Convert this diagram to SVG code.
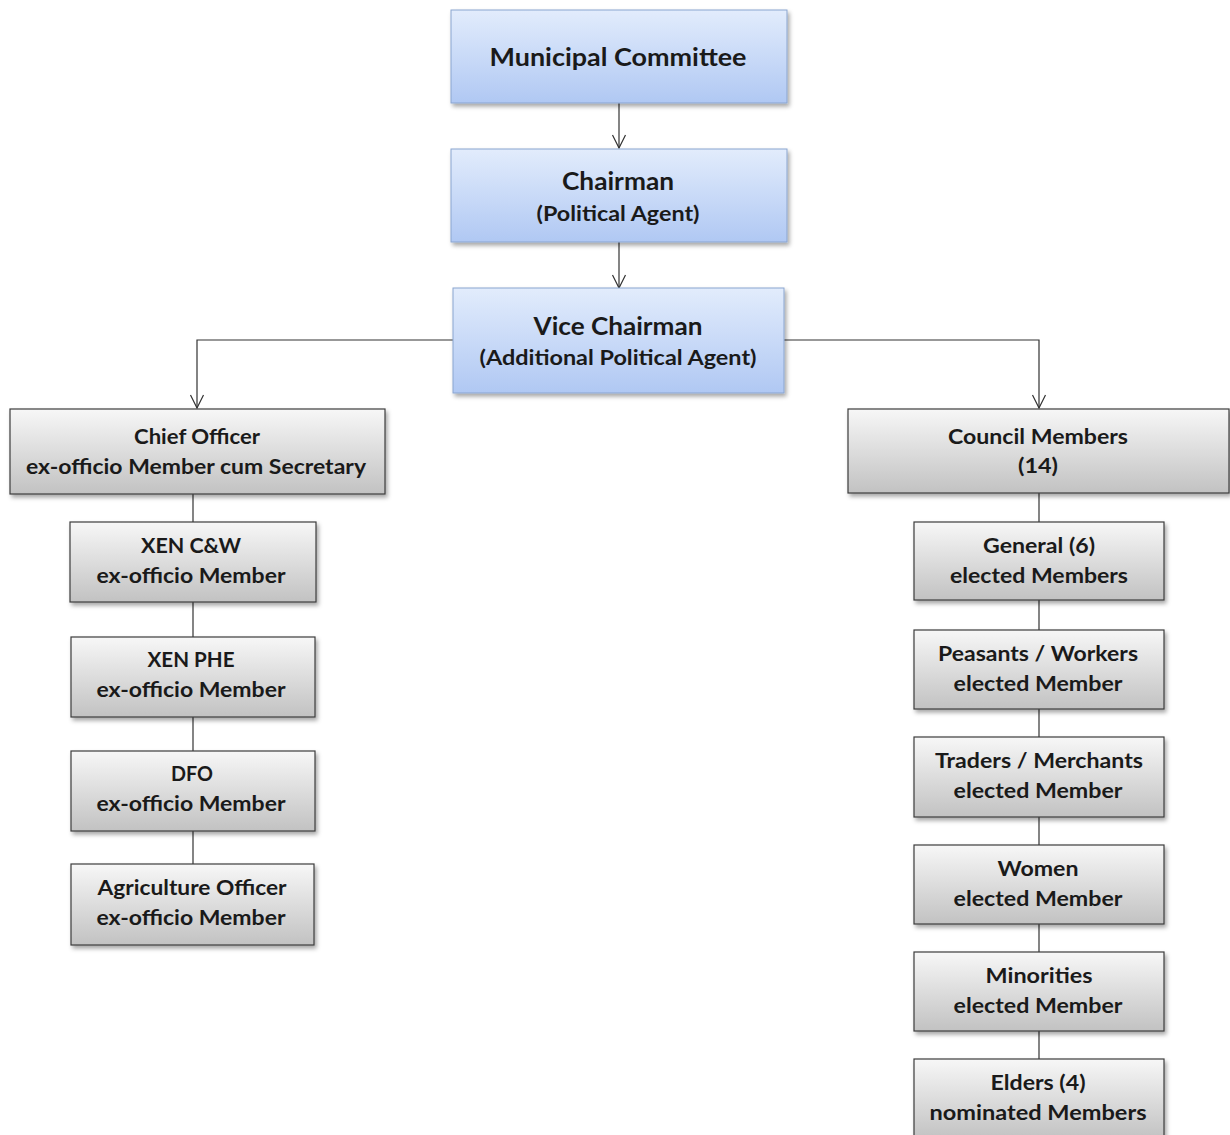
<svg xmlns="http://www.w3.org/2000/svg" width="1230" height="1135" viewBox="0 0 1230 1135">
  <defs>
    <linearGradient id="gBlue" x1="0" y1="0" x2="0" y2="1">
      <stop offset="0" stop-color="#e2ecfc"/>
      <stop offset="1" stop-color="#b0c8f3"/>
    </linearGradient>
    <linearGradient id="gGrey" x1="0" y1="0" x2="0" y2="1">
      <stop offset="0" stop-color="#f7f7f7"/>
      <stop offset="1" stop-color="#c2c2c2"/>
    </linearGradient>
    <filter id="shadow" x="-10%" y="-10%" width="130%" height="140%">
      <feDropShadow dx="2" dy="3" stdDeviation="2" flood-color="#000" flood-opacity="0.35"/>
    </filter>
    <!-- open V arrowhead, drawn pointing along +x so orient="auto" follows the line -->
    <marker id="arrow" viewBox="0 0 16 16" refX="15" refY="8" markerWidth="16" markerHeight="16" markerUnits="userSpaceOnUse" orient="auto">
      <path d="M2,1.5 L15,8 L2,14.5" fill="none" stroke="#333" stroke-width="1.2"/>
    </marker>
  </defs>
  <style>
    .blue { fill: url(#gBlue); stroke: #8aa5cf; stroke-width: 1; filter: url(#shadow); }
    .grey { fill: url(#gGrey); stroke: #3c3c3c; stroke-width: 1.2; filter: url(#shadow); }
    text { font-family: Lato, "Open Sans", "Liberation Sans", sans-serif; font-weight: bold; fill: #1a1a1a; text-anchor: middle; }
    .big { font-size: 24px; }
    .mid { font-size: 21px; }
    .conn line, .conn path { stroke: #333; stroke-width: 1.2; fill: none; }
  </style>

  <rect width="1230" height="1135" fill="#fff"/>

  <!-- connectors -->
  <g id="connectors" class="conn">
    <line x1="619" y1="103" x2="619" y2="148" marker-end="url(#arrow)"/>
    <line x1="619" y1="242" x2="619" y2="288" marker-end="url(#arrow)"/>
    <path d="M453,340 H197 V408" marker-end="url(#arrow)"/>
    <path d="M784,340 H1039 V408" marker-end="url(#arrow)"/>
    <line x1="193" y1="494" x2="193" y2="522"/>
    <line x1="193" y1="602" x2="193" y2="637"/>
    <line x1="193" y1="717" x2="193" y2="751"/>
    <line x1="193" y1="831" x2="193" y2="864"/>
    <line x1="1039" y1="493" x2="1039" y2="522"/>
    <line x1="1039" y1="600" x2="1039" y2="630"/>
    <line x1="1039" y1="709" x2="1039" y2="737"/>
    <line x1="1039" y1="817" x2="1039" y2="845"/>
    <line x1="1039" y1="924" x2="1039" y2="952"/>
    <line x1="1039" y1="1031" x2="1039" y2="1059"/>
  </g>

  <!-- top chain -->
  <g id="municipal-committee">
    <rect class="blue" x="451" y="10" width="336" height="93"/>
    <text class="big" x="618" y="66" textLength="257" lengthAdjust="spacingAndGlyphs">Municipal Committee</text>
  </g>
  <g id="chairman">
    <rect class="blue" x="451" y="149" width="336" height="93"/>
    <text class="big" x="618" y="190" textLength="112" lengthAdjust="spacingAndGlyphs">Chairman</text>
    <text class="mid" x="618" y="221" textLength="163" lengthAdjust="spacingAndGlyphs">(Political Agent)</text>
  </g>
  <g id="vice-chairman">
    <rect class="blue" x="453" y="288" width="331" height="105"/>
    <text class="big" x="618" y="335" textLength="169" lengthAdjust="spacingAndGlyphs">Vice Chairman</text>
    <text class="mid" x="618" y="365" textLength="277" lengthAdjust="spacingAndGlyphs">(Additional Political Agent)</text>
  </g>

  <!-- left branch -->
  <g id="chief-officer">
    <rect class="grey" x="10" y="409" width="375" height="85"/>
    <text class="mid" x="197" y="444" textLength="126" lengthAdjust="spacingAndGlyphs">Chief Officer</text>
    <text class="mid" x="196" y="474" textLength="340" lengthAdjust="spacingAndGlyphs">ex-officio Member cum Secretary</text>
  </g>
  <g id="xen-cw">
    <rect class="grey" x="70" y="522" width="246" height="80"/>
    <text class="mid" x="191" y="553" textLength="100" lengthAdjust="spacingAndGlyphs">XEN C&amp;W</text>
    <text class="mid" x="191" y="583" textLength="189" lengthAdjust="spacingAndGlyphs">ex-officio Member</text>
  </g>
  <g id="xen-phe">
    <rect class="grey" x="71" y="637" width="244" height="80"/>
    <text class="mid" x="191" y="667" textLength="87" lengthAdjust="spacingAndGlyphs">XEN PHE</text>
    <text class="mid" x="191" y="697" textLength="189" lengthAdjust="spacingAndGlyphs">ex-officio Member</text>
  </g>
  <g id="dfo">
    <rect class="grey" x="71" y="751" width="244" height="80"/>
    <text class="mid" x="192" y="781" textLength="42" lengthAdjust="spacingAndGlyphs">DFO</text>
    <text class="mid" x="191" y="811" textLength="189" lengthAdjust="spacingAndGlyphs">ex-officio Member</text>
  </g>
  <g id="agriculture-officer">
    <rect class="grey" x="71" y="864" width="243" height="81"/>
    <text class="mid" x="192" y="895" textLength="189" lengthAdjust="spacingAndGlyphs">Agriculture Officer</text>
    <text class="mid" x="191" y="925" textLength="189" lengthAdjust="spacingAndGlyphs">ex-officio Member</text>
  </g>

  <!-- right branch -->
  <g id="council-members">
    <rect class="grey" x="848" y="409" width="381" height="84"/>
    <text class="mid" x="1038" y="444" textLength="180" lengthAdjust="spacingAndGlyphs">Council Members</text>
    <text class="mid" x="1038" y="473" textLength="40" lengthAdjust="spacingAndGlyphs">(14)</text>
  </g>
  <g id="general">
    <rect class="grey" x="914" y="522" width="250" height="78"/>
    <text class="mid" x="1039" y="553" textLength="112" lengthAdjust="spacingAndGlyphs">General (6)</text>
    <text class="mid" x="1039" y="583" textLength="178" lengthAdjust="spacingAndGlyphs">elected Members</text>
  </g>
  <g id="peasants-workers">
    <rect class="grey" x="914" y="630" width="250" height="79"/>
    <text class="mid" x="1038" y="661" textLength="200" lengthAdjust="spacingAndGlyphs">Peasants / Workers</text>
    <text class="mid" x="1038" y="691" textLength="169" lengthAdjust="spacingAndGlyphs">elected Member</text>
  </g>
  <g id="traders-merchants">
    <rect class="grey" x="914" y="737" width="250" height="80"/>
    <text class="mid" x="1039" y="768" textLength="208" lengthAdjust="spacingAndGlyphs">Traders / Merchants</text>
    <text class="mid" x="1038" y="798" textLength="169" lengthAdjust="spacingAndGlyphs">elected Member</text>
  </g>
  <g id="women">
    <rect class="grey" x="914" y="845" width="250" height="79"/>
    <text class="mid" x="1038" y="876" textLength="81" lengthAdjust="spacingAndGlyphs">Women</text>
    <text class="mid" x="1038" y="906" textLength="169" lengthAdjust="spacingAndGlyphs">elected Member</text>
  </g>
  <g id="minorities">
    <rect class="grey" x="914" y="952" width="250" height="79"/>
    <text class="mid" x="1039" y="983" textLength="107" lengthAdjust="spacingAndGlyphs">Minorities</text>
    <text class="mid" x="1038" y="1013" textLength="169" lengthAdjust="spacingAndGlyphs">elected Member</text>
  </g>
  <g id="elders">
    <rect class="grey" x="914" y="1059" width="250" height="80"/>
    <text class="mid" x="1038" y="1090" textLength="95" lengthAdjust="spacingAndGlyphs">Elders (4)</text>
    <text class="mid" x="1038" y="1120" textLength="217" lengthAdjust="spacingAndGlyphs">nominated Members</text>
  </g>
</svg>
